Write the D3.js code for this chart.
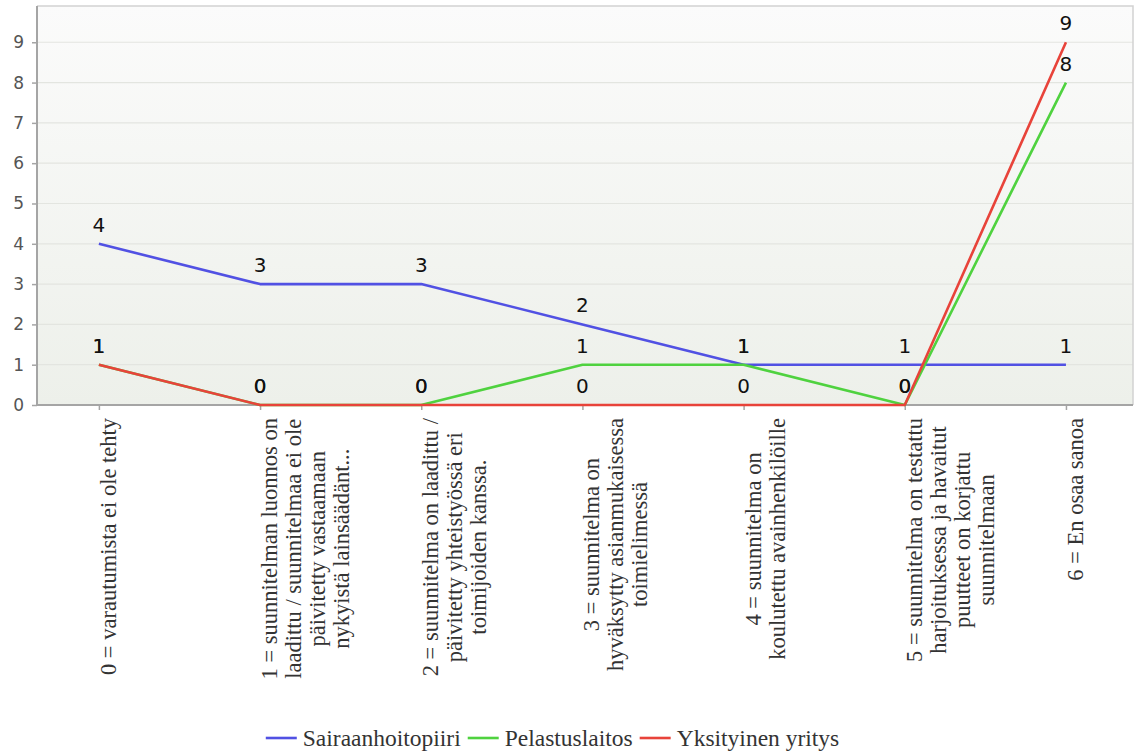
<!DOCTYPE html>
<html><head><meta charset="utf-8">
<script src="https://cdn.jsdelivr.net/npm/d3@7"></script>
<style>body{margin:0;background:#fff;}svg{display:block;}</style>
</head><body>
<svg id="c" width="1139" height="753"></svg>
<script>
const categories = ["0","1","2","3","4","5","6"];
const categoryLabels = [
  ["0 = varautumista ei ole tehty"],
  ["1 = suunnitelman luonnos on","laadittu / suunnitelmaa ei ole","päivitetty vastaamaan","nykyistä lainsäädänt..."],
  ["2 = suunnitelma on laadittu /","päivitetty yhteistyössä eri","toimijoiden kanssa."],
  ["3 = suunnitelma on","hyväksytty asianmukaisessa","toimielimessä"],
  ["4 = suunnitelma on","koulutettu avainhenkilöille"],
  ["5 = suunnitelma on testattu","harjoituksessa ja havaitut","puutteet on korjattu","suunnitelmaan"],
  ["6 = En osaa sanoa"]
];
const seriesNames = ["Sairaanhoitopiiri","Pelastuslaitos","Yksityinen yritys"];
const sairaanhoitopiiri = [4,3,3,2,1,1,1];
const pelastuslaitos = [1,0,0,1,1,0,8];
const yksityinen = [1,0,0,0,0,0,9];
const yTicks = [0,1,2,3,4,5,6,7,8,9];
const colors = ["#5151e3","#4fd23f","#e8433a"];

const series = [sairaanhoitopiiri, pelastuslaitos, yksityinen];
const L = 37, R = 1133, T = 6, B = 405;
const svg = d3.select("#c");

const defs = svg.append("defs");
const grad = defs.append("linearGradient").attr("id","bg").attr("x1",0).attr("y1",0).attr("x2",0).attr("y2",1);
grad.append("stop").attr("offset","0%").attr("stop-color","#fbfbfb");
grad.append("stop").attr("offset","100%").attr("stop-color","#edf0ea");

const x = d3.scalePoint().domain(categories).range([L, R]).padding(0.4).align(0.48);
const y = d3.scaleLinear().domain([0, 9.9]).range([B, T]);

svg.append("rect").attr("x",L).attr("y",T).attr("width",R-L).attr("height",B-T).attr("fill","url(#bg)");

// grid
svg.append("g").selectAll("line").data(yTicks.filter(d=>d>0)).join("line")
  .attr("x1",L).attr("x2",R).attr("y1",d=>y(d)).attr("y2",d=>y(d))
  .attr("stroke","#e3e5e0").attr("stroke-width",1.2);

// frame top/right
svg.append("path").attr("d",`M${L},${T}H${R}V${B}`).attr("fill","none").attr("stroke","#d2d2d2").attr("stroke-width",1.5);

// y axis
const yAxis = d3.axisLeft(y).tickValues(yTicks).tickSize(5).tickPadding(8).tickFormat(d3.format("d"));
const gy = svg.append("g").attr("transform",`translate(${L},0)`).call(yAxis);
gy.select(".domain").attr("stroke","#a5a5a5").attr("stroke-width",2).attr("d",`M0,${T}V${B}`);
gy.selectAll(".tick line").attr("stroke","#a5a5a5").attr("stroke-width",1.5);
gy.selectAll(".tick text").attr("font-family","DejaVu Sans").attr("font-size",17).attr("fill","#555");

// x axis
const xAxis = d3.axisBottom(x).tickSize(5).tickFormat("");
const gx = svg.append("g").attr("transform",`translate(0,${B})`).call(xAxis);
gx.select(".domain").attr("stroke","#a5a5a5").attr("stroke-width",2).attr("d",`M${L},0H${R}`);
gx.selectAll(".tick line").attr("stroke","#a5a5a5").attr("stroke-width",1.5);

// category labels
const lh = 24;
categories.forEach((c,i)=>{
  const g = svg.append("g").attr("transform",`translate(${x(c)},${B}) rotate(-90)`);
  const lines = categoryLabels[i];
  const ts = lines.map((t,j)=> g.append("text").attr("y", 17 + j*lh).attr("text-anchor","middle")
      .attr("font-family","Liberation Serif").attr("font-size",22.5).attr("fill","#333").text(t));
  const maxW = d3.max(ts, t=>t.node().getComputedTextLength());
  ts.forEach(t=>t.attr("x", -(13 + maxW/2)));
});

// lines
const line = d3.line().x((d,i)=>x(categories[i])).y(d=>y(d));
series.forEach((s,k)=>{
  svg.append("path").datum(s).attr("d",line).attr("fill","none")
    .attr("stroke",colors[k]).attr("stroke-width",2.6).attr("stroke-linejoin","round");
});

// data labels
series.forEach((s,k)=>{
  svg.append("g").selectAll("text").data(s).join("text")
    .attr("x",(d,i)=>x(categories[i])).attr("y",d=>y(d)-12)
    .attr("text-anchor","middle").attr("font-family","DejaVu Sans").attr("font-size",20).attr("fill","#111")
    .text(d=>d);
});

// legend
const lg = svg.append("g");
let cx = 0;
seriesNames.forEach((n,k)=>{
  const it = lg.append("g").attr("transform",`translate(${cx},0)`);
  it.append("line").attr("x1",0).attr("x2",31).attr("y1",0).attr("y2",0).attr("stroke",colors[k]).attr("stroke-width",2.6);
  const t = it.append("text").attr("x",37).attr("y",8).attr("font-family","Liberation Serif").attr("font-size",23.5).attr("fill","#333").text(n);
  cx += 37 + t.node().getComputedTextLength() + 7;
});
const totalW = cx - 7;
lg.attr("transform",`translate(${552.5 - totalW/2},738)`);
</script>
</body></html>
